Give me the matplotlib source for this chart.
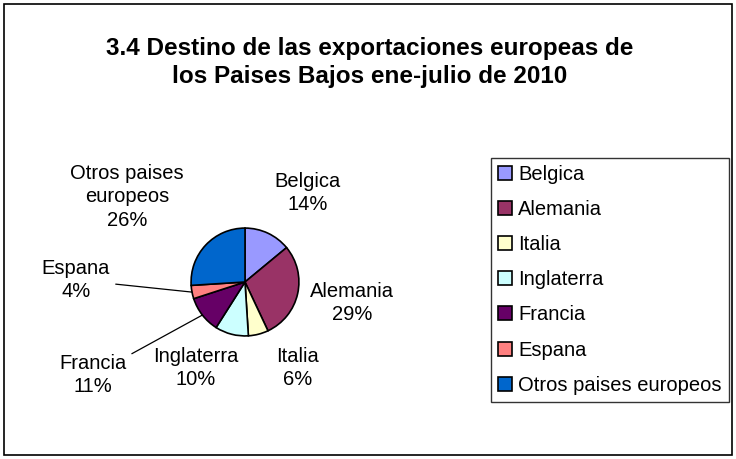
import numpy as np
import matplotlib
matplotlib.use("Agg")
import matplotlib.pyplot as plt
from matplotlib.patches import Rectangle

W, H = 736, 459

paises = ["Belgica", "Alemania", "Italia", "Inglaterra", "Francia", "Espana",
          "Otros paises europeos"]
porcentajes = [14, 29, 6, 10, 11, 4, 26]
colores = ["#9999FF", "#993366", "#FFFFCC", "#CCFFFF", "#660066", "#FF8080",
           "#0066CC"]
etiquetas = ["Belgica", "Alemania", "Italia", "Inglaterra", "Francia", "Espana",
             "Otros paises\neuropeos"]

# label centres in figure pixels (from top-left), layout only
pos_etiquetas = [(308, 193), (352, 303), (298, 368), (196, 368), (93, 375),
                 (76, 280), (127, 197)]
con_linea = [False, False, False, False, True, True, False]

plt.rcParams['font.family'] = ['Liberation Sans', 'DejaVu Sans']

fig = plt.figure(figsize=(W / 100, H / 100), dpi=100)

# outer frame
fig.patches.append(Rectangle((4 / W, 4 / H), 728 / W, 451 / H,
                             transform=fig.transFigure, fill=False,
                             edgecolor="black", lw=1.2))

fig.text(370 / W, 1 - 48 / H, "3.4 Destino de las exportaciones europeas de",
         ha="center", va="center", fontsize=17.5, fontweight="bold")
fig.text(370 / W, 1 - 77 / H, "los Paises Bajos ene-julio de 2010",
         ha="center", va="center", fontsize=17.5, fontweight="bold")

cx, cy, r = 245, 282, 55
ax = fig.add_axes([(cx - r) / W, (H - cy - r) / H, 2 * r / W, 2 * r / H])
wedges, _ = ax.pie(porcentajes, colors=colores, startangle=90,
                   counterclock=False, radius=1,
                   wedgeprops=dict(edgecolor="black", linewidth=1.2))
ax.set_xlim(-1.02, 1.02)
ax.set_ylim(-1.02, 1.02)
ax.set_aspect("equal")
ax.axis("off")

fs = 14.5
for w, lab, val, (px, py), linea in zip(wedges, etiquetas, porcentajes,
                                        pos_etiquetas, con_linea):
    txt = f"{lab}\n{val}%"
    if linea:
        ang = np.deg2rad((w.theta1 + w.theta2) / 2)
        ax.annotate(txt, xy=(np.cos(ang), np.sin(ang)), xycoords="data",
                    xytext=(px, H - py), textcoords="figure pixels",
                    ha="center", va="center", fontsize=fs, linespacing=1.3,
                    arrowprops=dict(arrowstyle="-", color="black", lw=0.9,
                                    shrinkA=2, shrinkB=0),
                    annotation_clip=False)
    else:
        fig.text(px / W, 1 - py / H, txt, ha="center", va="center",
                 fontsize=fs, linespacing=1.3)

leg = fig.legend(wedges, paises, loc="upper left",
                 bbox_to_anchor=(491 / W, 1 - 158 / H), borderaxespad=0,
                 fontsize=fs, frameon=True, fancybox=False,
                 handlelength=0.7, handleheight=0.7, handletextpad=0.3,
                 labelspacing=0.8, borderpad=0.35)
leg.get_frame().set_edgecolor("black")
leg.get_frame().set_linewidth(1.0)

fig.savefig("out.png", dpi=100)
